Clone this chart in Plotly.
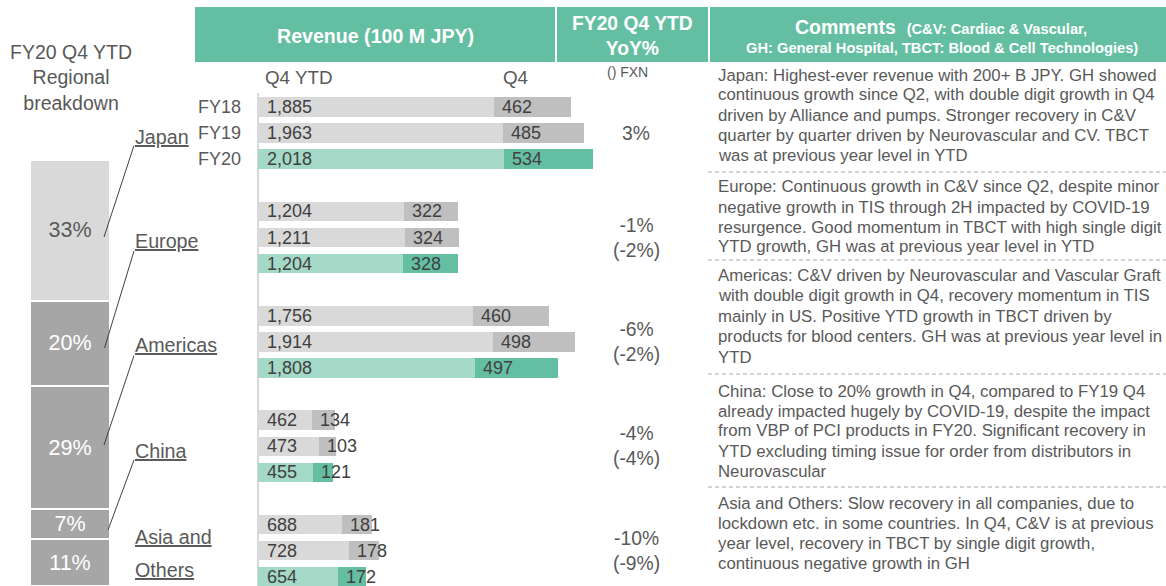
import plotly.graph_objects as go

W, H = 1166, 586

# ---------------- data ----------------
regions = ["Japan", "Europe", "Americas", "China", "Asia and Others"]
years = ["FY18", "FY19", "FY20"]
ytd_fy18 = [1885, 1204, 1756, 462, 688]
ytd_fy19 = [1963, 1211, 1914, 473, 728]
ytd_fy20 = [2018, 1204, 1808, 455, 654]
q4_fy18 = [462, 322, 460, 134, 181]
q4_fy19 = [485, 324, 498, 103, 178]
q4_fy20 = [534, 328, 497, 121, 172]
yoy = ["3%", "-1%", "-6%", "-4%", "-10%"]
yoy_fxn = ["", "(-2%)", "(-2%)", "(-4%)", "(-9%)"]
share_fy20 = [33, 20, 29, 7, 11]

comments = [
    ["Japan: Highest-ever revenue with 200+ B JPY. GH showed",
     "continuous growth since Q2, with double digit growth in Q4",
     "driven by Alliance and pumps. Stronger recovery in C&amp;V",
     "quarter by quarter driven by Neurovascular and CV. TBCT",
     "was at previous year level in YTD"],
    ["Europe: Continuous growth in C&amp;V since Q2, despite minor",
     "negative growth in TIS through 2H impacted by COVID-19",
     "resurgence. Good momentum in TBCT with high single digit",
     "YTD growth, GH was at previous year level in YTD"],
    ["Americas: C&amp;V driven by Neurovascular and Vascular Graft",
     "with double digit growth in Q4, recovery momentum in TIS",
     "mainly in US. Positive YTD growth in TBCT driven by",
     "products for blood centers. GH was at previous year level in",
     "YTD"],
    ["China: Close to 20% growth in Q4, compared to FY19 Q4",
     "already impacted hugely by COVID-19, despite the impact",
     "from VBP of PCI products in FY20. Significant recovery in",
     "YTD excluding timing issue for order from distributors in",
     "Neurovascular"],
    ["Asia and Others: Slow recovery in all companies, due to",
     "lockdown etc. in some countries. In Q4, C&amp;V is at previous",
     "year level, recovery in TBCT by single digit growth,",
     "continuous negative growth in GH"],
]

# ---------------- style ----------------
FONT = "Liberation Sans, Arial, sans-serif"
TXT = "#595959"
DARK = "#404040"
HDR = "#64bfa2"
GRAY_L, GRAY_D = "#d9d9d9", "#bfbfbf"
GREEN_L, GREEN_D = "#a3d9c6", "#64bfa2"
SEG_COLORS = ["#d9d9d9", "#a6a6a6", "#a6a6a6", "#a6a6a6", "#a6a6a6"]
SEG_TXT = [TXT, "white", "white", "white", "white"]


def px(x):
    return x / W


def py(y):
    return 1 - y / H


ytd_by_year = [ytd_fy18, ytd_fy19, ytd_fy20]
q4_by_year = [q4_fy18, q4_fy19, q4_fy20]

rows, base_x, q4_x, base_c, q4_c = [], [], [], [], []
annotations = []
for g in range(len(regions)):
    for j in range(3):
        r = 4 * g + j
        ytd = ytd_by_year[j][g]
        q4 = q4_by_year[j][g]
        rows.append(r)
        base_x.append(ytd - q4)
        q4_x.append(q4)
        base_c.append(GREEN_L if j == 2 else GRAY_L)
        q4_c.append(GREEN_D if j == 2 else GRAY_D)
        annotations.append(dict(x=0, y=r, xref="x", yref="y", text=f"{ytd:,}",
                                xanchor="left", yanchor="middle", xshift=7, showarrow=False,
                                font=dict(size=18, color=DARK, family=FONT)))
        annotations.append(dict(x=ytd - q4, y=r, xref="x", yref="y", text=f"{q4:,}",
                                xanchor="left", yanchor="middle", xshift=6, showarrow=False,
                                font=dict(size=18, color=DARK, family=FONT)))

fig = go.Figure()
fig.add_trace(go.Bar(y=rows, x=base_x, orientation="h", width=0.745,
                     marker=dict(color=base_c, line=dict(width=0)),
                     xaxis="x", yaxis="y", hoverinfo="skip", showlegend=False))
fig.add_trace(go.Bar(y=rows, x=q4_x, orientation="h", width=0.745,
                     marker=dict(color=q4_c, line=dict(width=0)),
                     xaxis="x", yaxis="y", hoverinfo="skip", showlegend=False))

# left stacked regional breakdown (bottom to top: Asia ... Japan)
for i in reversed(range(len(regions))):
    fig.add_trace(go.Bar(x=[0], y=[share_fy20[i]], width=1, xaxis="x2", yaxis="y2",
                         marker=dict(color=SEG_COLORS[i], line=dict(color="white", width=2)),
                         text=[f"{share_fy20[i]}%"], textposition="inside",
                         insidetextanchor="middle", textangle=0, constraintext="none",
                         textfont=dict(size=21.5, color=SEG_TXT[i], family=FONT),
                         hoverinfo="skip", showlegend=False))

# year labels (first group)
for j, yl in enumerate(years):
    annotations.append(dict(x=px(243), y=j, xref="paper", yref="y", text=yl,
                            xanchor="right", yanchor="middle", showarrow=False,
                            font=dict(size=18, color=TXT, family=FONT)))

# YoY column
for g in range(len(regions)):
    txt = yoy[g] if not yoy_fxn[g] else yoy[g] + "<br>" + yoy_fxn[g]
    annotations.append(dict(x=px(636), y=4 * g + 1, xref="paper", yref="y", text=txt,
                            xanchor="center", yanchor="middle", showarrow=False,
                            font=dict(size=19.3, color=TXT, family=FONT)))

# region labels
region_lbl = [("Japan", 137), ("Europe", 241), ("Americas", 345), ("China", 451),
              ("Asia and", 537), ("Others", 570)]
for t, yy in region_lbl:
    annotations.append(dict(x=px(133), y=py(yy), xref="paper", yref="paper",
                            text=f"<u>{t}</u>", xanchor="left", yanchor="middle",
                            showarrow=False, font=dict(size=19.7, color=TXT, family=FONT)))

# titles / headers
annotations += [
    dict(x=px(71), y=py(77), xref="paper", yref="paper",
         text="FY20 Q4 YTD<br>Regional<br>breakdown", xanchor="center", yanchor="middle",
         showarrow=False, font=dict(size=19.5, color=TXT, family=FONT)),
    dict(x=px(375), y=py(36), xref="paper", yref="paper", text="<b>Revenue (100 M JPY)</b>",
         xanchor="center", yanchor="middle", showarrow=False,
         font=dict(size=19.6, color="white", family=FONT)),
    dict(x=px(632), y=py(36), xref="paper", yref="paper", text="<b>FY20 Q4 YTD<br>YoY%</b>",
         xanchor="center", yanchor="middle", showarrow=False,
         font=dict(size=19.3, color="white", family=FONT)),
    dict(x=px(941), y=py(27), xref="paper", yref="paper",
         text="<b>Comments</b>  <b><span style='font-size:14.7px'>(C&amp;V: Cardiac &amp; Vascular,</span></b>",
         xanchor="center", yanchor="middle", showarrow=False,
         font=dict(size=19.5, color="white", family=FONT)),
    dict(x=px(942), y=py(48), xref="paper", yref="paper",
         text="<b>GH: General Hospital, TBCT: Blood &amp; Cell Technologies)</b>",
         xanchor="center", yanchor="middle", showarrow=False,
         font=dict(size=14.7, color="white", family=FONT)),
    dict(x=px(298.5), y=py(77), xref="paper", yref="paper", text="Q4 YTD",
         xanchor="center", yanchor="middle", showarrow=False,
         font=dict(size=18.8, color=TXT, family=FONT)),
    dict(x=px(515), y=py(77), xref="paper", yref="paper", text="Q4",
         xanchor="center", yanchor="middle", showarrow=False,
         font=dict(size=18.8, color=TXT, family=FONT)),
    dict(x=px(628), y=py(72), xref="paper", yref="paper", text="() FXN",
         xanchor="center", yanchor="middle", showarrow=False,
         font=dict(size=14, color=TXT, family=FONT)),
]

# comments
starts = [75, 187, 275, 391, 503]
pitch = [20, 20, 20.5, 20, 20]
for blk, s, p in zip(comments, starts, pitch):
    for k, line in enumerate(blk):
        annotations.append(dict(x=px(716), y=py(s + p * k), xref="paper", yref="paper",
                                text=line, xanchor="left", yanchor="middle", showarrow=False,
                                font=dict(size=16.8, color=TXT, family=FONT)))

shapes = [
    dict(type="rect", xref="paper", yref="paper", x0=px(195), x1=1, y0=py(62), y1=py(7),
         fillcolor=HDR, line=dict(width=0), layer="above"),
    dict(type="line", xref="paper", yref="paper", x0=px(556), x1=px(556), y0=py(62), y1=py(7),
         line=dict(color="white", width=2), layer="above"),
    dict(type="line", xref="paper", yref="paper", x0=px(709), x1=px(709), y0=py(62), y1=py(7),
         line=dict(color="white", width=2), layer="above"),
    dict(type="line", xref="x", yref="paper", x0=0, x1=0, y0=0, y1=py(93),
         line=dict(color="#d9d9d9", width=2), layer="below"),
]
for yy in [172, 260, 374, 487]:
    shapes.append(dict(type="line", xref="paper", yref="paper", x0=px(708), x1=1,
                       y0=py(yy), y1=py(yy), line=dict(color="#a6a6a6", width=1, dash="4px,3px")))
for (x0, y0, x1, y1) in [(134, 145.5, 104, 237), (134, 251, 104.5, 348),
                         (134, 355.5, 104, 445), (134, 460, 108, 530)]:
    shapes.append(dict(type="line", xref="paper", yref="paper", x0=px(x0), y0=py(y0),
                       x1=px(x1), y1=py(y1), line=dict(color=DARK, width=1)))

scale = 334.7 / 2018.0
fig.update_layout(
    width=W, height=H, autosize=False,
    margin=dict(l=0, r=0, t=0, b=0, pad=0),
    paper_bgcolor="white", plot_bgcolor="rgba(0,0,0,0)",
    barmode="stack", showlegend=False,
    font=dict(family=FONT, color=TXT),
    xaxis=dict(domain=[0, 1], range=[-258 / scale, (W - 258) / scale], visible=False,
               fixedrange=True),
    yaxis=dict(domain=[0, 1], range=[(H - 107) / 26.1, -107 / 26.1], visible=False,
               fixedrange=True),
    xaxis2=dict(domain=[px(30), px(110)], anchor="y2", range=[-0.5, 0.5], visible=False),
    yaxis2=dict(domain=[0, (H - 160) / H], anchor="x2", range=[0, 100], visible=False),
    annotations=annotations,
    shapes=shapes,
)

fig.write_html(
    "out.html",
    config={"displayModeBar": False, "staticPlot": True},
    post_script="document.body.style.margin='0';document.body.style.overflow='hidden';",
)
